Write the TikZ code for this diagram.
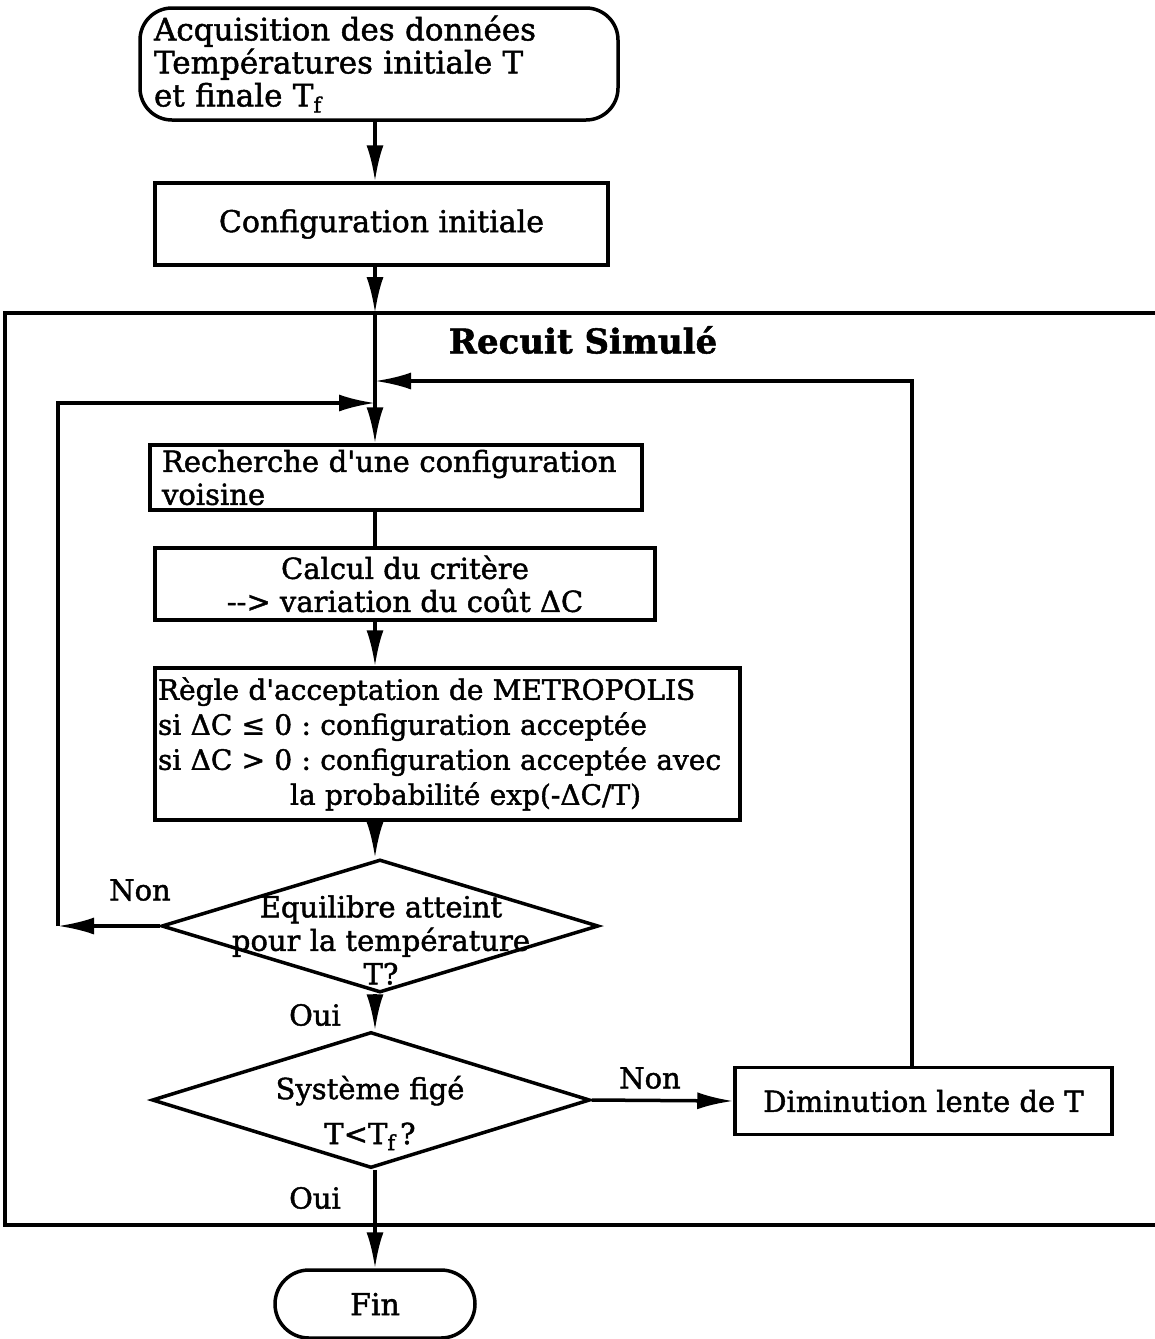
\documentclass[tikz,border=0pt]{standalone}
\usepackage{fontspec}
\setmainfont{DejaVu Serif}[Ligatures=TeXOff, FakeBold=1.5]
\usetikzlibrary{shapes.geometric,arrows.meta,calc}
\newcommand{\Tf}{T\kern0pt\raisebox{-6pt}{\fontsize{21}{21}\selectfont f}}
\begin{document}
\frenchspacing
\begin{tikzpicture}[x=1pt,y=-1pt,
  every node/.style={font=\fontsize{29}{33}\selectfont},
  box/.style={draw, line width=3.5pt, inner ysep=0pt, rectangle},
  ln/.style={line width=3.5pt},
  arr/.style={line width=3.5pt,-{Latex[length=36pt,width=17pt]}},
  dia/.style={draw, diamond, line width=3.5pt, inner sep=0pt},
  lbl/.style={inner sep=0pt},
  frame/.style={line width=4.5pt}
]
\useasboundingbox (0,0) rectangle (1155,1339);

% nodes
\node[box, rounded corners=32pt, minimum width=478pt, minimum height=112pt,
      inner xsep=14pt, text width=450pt, align=left,
      font=\fontsize{31}{33}\selectfont] (start) at (379,64)
  {Acquisition des données\\Températures initiale T\\et finale \Tf};
\node[box, minimum width=453pt, minimum height=82pt,
      font=\fontsize{30}{33}\selectfont] (cfg) at (381.5,224)
  {Configuration initiale};
\node[box, minimum width=492pt, minimum height=65pt, inner xsep=12pt,
      text width=468pt, align=left] (rec) at (396,477.5)
  {\mbox{Recherche d'une configuration}\\voisine};
\node[box, minimum width=500pt, minimum height=72pt, align=center] (calc) at (405,584)
  {Calcul du critère\\-{}-> variation du coût ΔC};
\node[box, minimum width=585pt, minimum height=152pt, inner xsep=3pt,
      text width=579pt, align=left, font=\fontsize{28}{35}\selectfont] (regle) at (447.5,744)
  {\mbox{Règle d'acceptation de METROPOLIS}\\\mbox{si ΔC ≤ 0 : configuration acceptée}\\\mbox{si ΔC > 0 : configuration acceptée avec}\\\hspace*{132pt}\mbox{la probabilité exp(-ΔC/T)}};
\node[dia, minimum width=437pt, minimum height=133pt] (d1) at (380,926) {};
\node[lbl, align=center, font=\fontsize{29}{33.5}\selectfont] (d1t) at (381,940)
  {Equilibre atteint\\pour la température\\T?};
\node[dia, minimum width=438pt, minimum height=136pt] (d2) at (371,1100) {};
\node[lbl, align=center, font=\fontsize{29}{45}\selectfont] (d2t) at (370,1113)
  {Système figé\\T<\Tf\,?};
\node[box, minimum width=377pt, minimum height=67pt] (dim) at (923.5,1101)
  {Diminution lente de T};
\node[box, rounded corners=34pt, minimum width=200pt, minimum height=68pt,
      font=\fontsize{30}{33}\selectfont] (fin) at (375,1304)
  {Fin};

\node[lbl, font=\bfseries\fontsize{34}{36}\selectfont] (title) at (583,340) {Recuit Simulé};
\node[lbl] (non1) at (140,890) {Non};
\node[lbl] (oui1) at (315,1015) {Oui};
\node[lbl] (non2) at (650,1078) {Non};
\node[lbl] (oui2) at (315,1198) {Oui};

% frame (open on the right)
\draw[frame] (1160,313) -- (5,313) -- (5,1225) -- (1160,1225);

% coordinates
\coordinate (trunk) at (375,0);
\coordinate (ftop) at (375,313);
\coordinate (fbot) at (375,1225);
\coordinate (j1) at (375,403);
\coordinate (j2) at (375,381);
\coordinate (lb) at (58,926);
\coordinate (rt) at (912,1068);

% connectors
\draw[arr] (start.south -| trunk) -- (cfg.north -| trunk);
\draw[arr] (cfg.south -| trunk) -- (ftop);
\draw[arr] (ftop) -- (rec.north -| trunk);
\draw[ln] (rec.south -| trunk) -- (calc.north -| trunk);
\draw[arr] (calc.south -| trunk) -- (regle.north -| trunk);
\draw[arr] (regle.south -| trunk) -- (d1.north -| trunk);
\draw[arr] (d1.south -| trunk) -- (d2.north -| trunk);
\draw[ln] (d2.south -| trunk) -- (fbot);
\draw[arr] (fbot) -- (fin.north);
\draw[arr] (d1.west) -- (lb);
\draw[arr] (lb) |- (j1);
\draw[arr] (d2.east) -- (dim.west);
\draw[arr] (rt) |- (j2);
\end{tikzpicture}
\end{document}
